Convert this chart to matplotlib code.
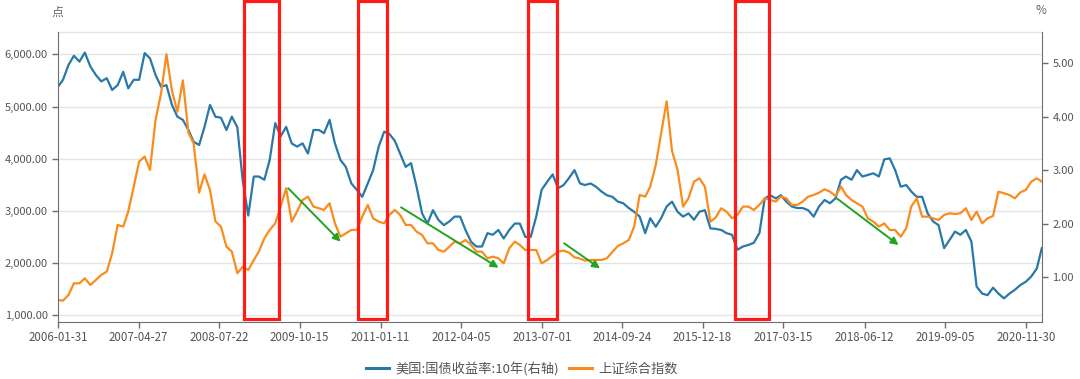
import pandas as pd
import matplotlib.pyplot as plt
import matplotlib.dates as mdates
import matplotlib.transforms as mtransforms
from matplotlib.patches import Rectangle

plt.rcParams['font.family'] = ['Noto Sans CJK SC', 'DejaVu Sans']

# month-end readings, 2006-01 .. 2021-02
dates = pd.date_range('2006-01-31', '2021-02-28', freq='ME')

us10y = [
    4.56, 4.69, 4.97, 5.14, 5.03, 5.20, 4.94, 4.78, 4.66, 4.72,
    4.50, 4.59, 4.84, 4.53, 4.69, 4.69, 5.19, 5.09, 4.78, 4.56,
    4.59, 4.22, 4.00, 3.94, 3.75, 3.53, 3.47, 3.81, 4.22, 4.00,
    3.98, 3.75, 4.00, 3.80, 2.80, 2.15, 2.88, 2.88, 2.82, 3.19,
    3.88, 3.63, 3.81, 3.50, 3.44, 3.50, 3.31, 3.75, 3.75, 3.69,
    3.94, 3.50, 3.19, 3.06, 2.75, 2.63, 2.50, 2.75, 3.00, 3.44,
    3.72, 3.68, 3.55, 3.31, 3.06, 3.13, 2.69, 2.19, 2.00, 2.25,
    2.07, 1.97, 2.04, 2.13, 2.13, 1.88, 1.66, 1.57, 1.57, 1.82,
    1.79, 1.88, 1.72, 1.88, 2.00, 2.00, 1.75, 1.75, 2.13, 2.63,
    2.78, 2.92, 2.66, 2.72, 2.85, 3.00, 2.75, 2.72, 2.75, 2.69,
    2.60, 2.53, 2.50, 2.41, 2.38, 2.29, 2.22, 2.13, 1.82, 2.10,
    1.94, 2.10, 2.32, 2.41, 2.22, 2.13, 2.19, 2.07, 2.22, 2.25,
    1.91, 1.90, 1.88, 1.82, 1.79, 1.51, 1.57, 1.60, 1.64, 1.82,
    2.47, 2.53, 2.47, 2.53, 2.41, 2.32, 2.29, 2.29, 2.25, 2.13,
    2.32, 2.44, 2.38, 2.47, 2.82, 2.88, 2.82, 3.00, 2.88, 2.91,
    2.94, 2.88, 3.20, 3.22, 3.00, 2.69, 2.72, 2.60, 2.50, 2.50,
    2.19, 2.04, 1.97, 1.54, 1.69, 1.85, 1.79, 1.88, 1.66, 0.82,
    0.69, 0.66, 0.80, 0.69, 0.60, 0.69, 0.76, 0.85, 0.91, 1.01,
    1.16, 1.54,
]

sse = [
    1294, 1281, 1390, 1613, 1613, 1709, 1581, 1677, 1773, 1837,
    2188, 2731, 2699, 2986, 3465, 3944, 4040, 3784, 4742, 5253,
    6000, 5300, 4900, 5500, 4500, 4295, 3350, 3700, 3400, 2800,
    2700, 2315, 2220, 1805, 1932, 1868, 2060, 2220, 2475, 2635,
    2762, 3082, 3433, 2794, 2986, 3209, 3273, 3082, 3050, 3018,
    3146, 2762, 2507, 2571, 2635, 2635, 2890, 3114, 2858, 2794,
    2762, 2920, 3018, 2922, 2731, 2731, 2603, 2539, 2379, 2379,
    2252, 2220, 2315, 2411, 2379, 2443, 2347, 2220, 2220, 2092,
    2124, 2092, 1996, 2284, 2411, 2347, 2252, 2252, 2252, 1996,
    2060, 2140, 2220, 2239, 2201, 2111, 2086, 2047, 2060, 2060,
    2060, 2092, 2213, 2328, 2379, 2443, 2699, 3305, 3273, 3465,
    3880, 4487, 5100, 4150, 3784, 3082, 3241, 3561, 3625, 3465,
    2794, 2870, 3050, 2986, 2858, 2922, 3082, 3082, 3018, 3114,
    3241, 3209, 3178, 3273, 3241, 3114, 3114, 3178, 3273, 3305,
    3350, 3414, 3369, 3286, 3465, 3305, 3209, 3146, 3082, 2858,
    2794, 2699, 2760, 2635, 2635, 2507, 2667, 3082, 3241, 2890,
    2890, 2858, 2826, 2922, 2954, 2941, 2954, 3050, 2826, 2986,
    2762, 2858, 2903, 3369, 3337, 3305, 3241, 3356, 3401, 3561,
    3625, 3561,
]

tick_dates = ['2006-01-31', '2007-04-27', '2008-07-22', '2009-10-15', '2011-01-11',
              '2012-04-05', '2013-07-01', '2014-09-24', '2015-12-18', '2017-03-15',
              '2018-06-12', '2019-09-05', '2020-11-30']
left_ticks = [1000, 2000, 3000, 4000, 5000, 6000]
right_ticks = [1.0, 2.0, 3.0, 4.0, 5.0]

# red highlight windows and green trend arrows (annotations)
boxes = [('2008-12-07', '2009-06-21'), ('2010-09-08', '2011-02-17'),
         ('2013-04-13', '2013-09-23'), ('2016-06-17', '2016-12-26')]
arrows = [(('2009-08-12', 3433), ('2010-06-01', 2410)),
          (('2011-05-05', 3069), ('2012-11-01', 1912)),
          (('2013-11-03', 2379), ('2014-05-23', 1900)),
          (('2018-01-07', 3241), ('2018-12-19', 2347))]

BLUE = '#2878a8'
ORANGE = '#f98c1d'
AXIS = '#6e6e6e'
GRID = '#e4e4e4'

fig = plt.figure(figsize=(10.8, 3.79), dpi=100)
ax = fig.add_axes([58 / 1080, 56.7 / 379, 984 / 1080, 290.6 / 379])  # blue, right scale
ax2 = ax.twinx()  # orange, left scale, drawn on top

ax.plot(dates, us10y, color=BLUE, lw=1.6)
ax2.plot(dates, sse, color=ORANGE, lw=1.6)

ax.set_xlim(pd.Timestamp('2006-01-31'), pd.Timestamp('2021-03-01'))
ax.set_ylim(0.152, 5.59)
ax2.set_ylim(866, 6433)

# swap sides: main axes ticks on right, twin on left
ax.yaxis.tick_right()
ax2.yaxis.tick_left()
ax.set_yticks(right_ticks)
ax.set_yticklabels(['%.2f' % v for v in right_ticks])
ax2.set_yticks(left_ticks)
ax2.set_yticklabels(['{:,.2f}'.format(v) for v in left_ticks])
ax.set_xticks(pd.to_datetime(tick_dates))
ax.set_xticklabels(tick_dates)

# grid lines belong to the left scale but sit under both series
gtrans = mtransforms.blended_transform_factory(ax.transAxes, ax2.transData)
for v in left_ticks:
    ax.plot([0, 1], [v, v], transform=gtrans, color=GRID, lw=1, zorder=0)
ax.plot([0, 1], [1, 1], transform=ax.transAxes, color=GRID, lw=1, zorder=0, clip_on=False)

for a in (ax, ax2):
    for s in ('top', 'left', 'right', 'bottom'):
        a.spines[s].set_visible(False)
    a.tick_params(colors=AXIS, labelcolor='#555555', labelsize=8, length=4, width=1)
ax.spines['bottom'].set_visible(True)
ax.spines['bottom'].set_color(AXIS)
ax.spines['right'].set_visible(True)
ax.spines['right'].set_color(AXIS)
ax2.spines['left'].set_visible(True)
ax2.spines['left'].set_color(AXIS)
ax.tick_params(axis='x', labelsize=8.3, pad=2)

fig.text(57 / 1080, 1 - 12 / 379, '点', ha='center', va='center', fontsize=8.5, color='#666666')
fig.text(1041 / 1080, 1 - 11 / 379, '%', ha='center', va='center', fontsize=8.5, color='#666666')

btrans = mtransforms.blended_transform_factory(ax2.transData, ax2.transAxes)
for x0, x1 in boxes:
    d0 = mdates.date2num(pd.Timestamp(x0))
    d1 = mdates.date2num(pd.Timestamp(x1))
    ax2.add_patch(Rectangle((d0, 0.01), d1 - d0, 1.095, transform=btrans, fill=False,
                            edgecolor='#ff1a1a', lw=2.3, clip_on=False, zorder=10))

for (sd, sv), (ed, ev) in arrows:
    ax2.annotate('', xy=(pd.Timestamp(ed), ev), xytext=(pd.Timestamp(sd), sv),
                 arrowprops=dict(arrowstyle='-|>', color='#22a322', lw=1.4,
                                 mutation_scale=11, shrinkA=0, shrinkB=0), zorder=11)

handles = [plt.Line2D([], [], color=BLUE, lw=2.2), plt.Line2D([], [], color=ORANGE, lw=2.2)]
fig.legend(handles, ['美国:国债收益率:10年(右轴)', '上证综合指数'], loc='center',
           bbox_to_anchor=(522 / 1080, 1 - 369 / 379), ncol=2, frameon=False,
           fontsize=9.5, handlelength=1.7, handletextpad=0.5, columnspacing=0.8,
           labelcolor='#555555')

fig.savefig('out.png', dpi=100)
